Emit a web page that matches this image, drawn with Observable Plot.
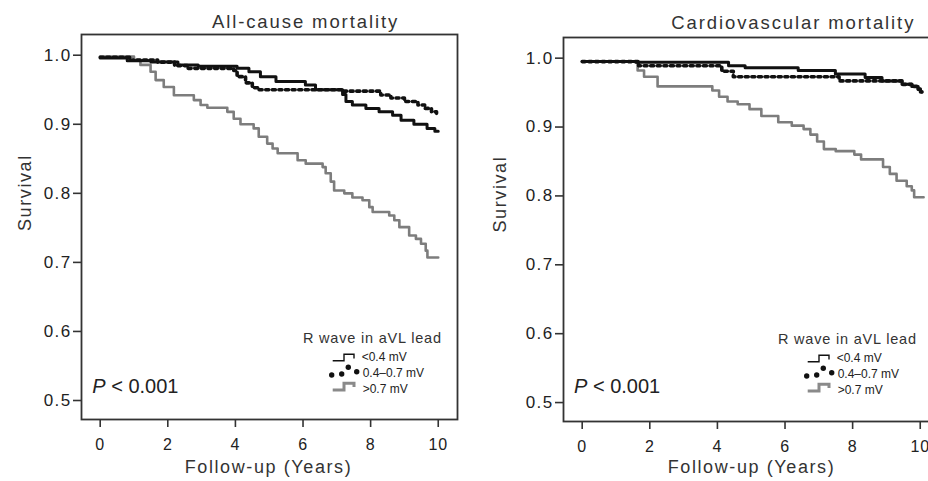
<!DOCTYPE html>
<html><head><meta charset="utf-8">
<script src="https://cdn.jsdelivr.net/npm/d3@7"></script>
<script src="https://cdn.jsdelivr.net/npm/@observablehq/plot@0.6"></script>
<style>
html,body{margin:0;padding:0;background:#fff;}
#wrap{position:relative;width:928px;height:481px;overflow:hidden;background:#fff;}
#wrap svg{position:absolute;top:0;overflow:visible;}
</style></head><body><div id="wrap"></div>
<script>
// ---- chart values ----
const xTicks = [0, 2, 4, 6, 8, 10];
const yTicks = [0.5, 0.6, 0.7, 0.8, 0.9, 1.0];
const panelTitles = ["All-cause mortality", "Cardiovascular mortality"];
const xLabel = "Follow-up (Years)";
const yLabel = "Survival";
const legendTitle = "R wave in aVL lead";
const groupLabels = ["<0.4 mV", "0.4–0.7 mV", ">0.7 mV"];
const pLetter = "P";
const pRest = " < 0.001";

// All-cause mortality: [years, survival]
const acmLow = [[0,0.996],[0.8,0.992],[1.5,0.990],[2.3,0.986],[2.9,0.984],[4.05,0.981],[4.4,0.976],[4.74,0.969],[5.2,0.962],[6.07,0.957],[6.37,0.950],[7.17,0.943],[7.27,0.933],[7.46,0.928],[7.86,0.923],[8.25,0.918],[8.65,0.913],[8.9,0.906],[9.28,0.900],[9.67,0.894],[9.9,0.890],[10,0.890]];
const acmMid = [[0,0.997],[0.9,0.993],[1.7,0.990],[2.2,0.985],[2.6,0.981],[3.95,0.978],[4.05,0.969],[4.3,0.960],[4.5,0.953],[4.7,0.950],[7.2,0.948],[8.3,0.9425],[8.6,0.938],[9.0,0.933],[9.4,0.928],[9.6,0.923],[9.8,0.918],[9.95,0.915],[10,0.915]];
const acmHigh = [[0,0.998],[1.0,0.993],[1.19,0.986],[1.49,0.976],[1.64,0.964],[1.88,0.954],[2.18,0.942],[2.77,0.935],[2.97,0.928],[3.17,0.924],[3.76,0.918],[3.95,0.908],[4.15,0.900],[4.54,0.894],[4.69,0.882],[4.94,0.872],[5.1,0.865],[5.25,0.858],[5.84,0.848],[6.08,0.843],[6.58,0.838],[6.67,0.829],[6.82,0.817],[6.92,0.804],[7.22,0.800],[7.46,0.794],[7.76,0.790],[7.96,0.780],[8.06,0.773],[8.55,0.768],[8.70,0.761],[8.85,0.751],[9.14,0.739],[9.34,0.734],[9.49,0.727],[9.63,0.717],[9.68,0.707],[10.0,0.707]];

// Cardiovascular mortality: [years, survival]
const cvLow = [[0,0.995],[1.6,0.994],[4.33,0.989],[4.82,0.986],[6.39,0.982],[7.49,0.977],[8.37,0.972],[8.87,0.967],[9.46,0.962],[9.75,0.959],[9.94,0.955],[10.0,0.951],[10.05,0.951]];
const cvMid = [[0,0.995],[1.67,0.989],[4.13,0.981],[4.47,0.973],[7.6,0.967],[8.87,0.967],[9.46,0.962],[9.75,0.959],[9.94,0.955],[10.0,0.951],[10.05,0.951]];
const cvHigh = [[0,0.995],[1.64,0.982],[1.83,0.973],[2.23,0.959],[3.85,0.953],[4.05,0.944],[4.3,0.937],[4.6,0.933],[4.95,0.926],[5.3,0.916],[5.8,0.907],[6.2,0.902],[6.55,0.897],[6.75,0.889],[6.95,0.879],[7.15,0.868],[7.5,0.865],[8.05,0.860],[8.25,0.853],[8.9,0.842],[9.1,0.832],[9.3,0.822],[9.6,0.814],[9.75,0.808],[9.82,0.798],[10.1,0.798]];

// ---- drawing ----
const FONT = "'Liberation Sans', Arial, Helvetica, sans-serif";
const xDomain = [-0.553, 10.57];
const yDomain = [0.4725, 1.03];
const wrap = document.getElementById("wrap");

function drawLegend(svg, x0, y0) {
  const g = svg.append("g").attr("font-family", FONT).attr("text-anchor", "start");
  g.append("text").attr("x", x0).attr("y", y0).attr("font-size", 14.5)
    .attr("letter-spacing", "0.8px").attr("fill", "#333").text(legendTitle);
  const sx = x0 + 29.7, tx = x0 + 59;
  g.append("path")
    .attr("d", `M${sx},${y0+17.7}H${sx+11.3}V${y0+11.3}H${sx+21.3}V${y0+15.5}`)
    .attr("fill", "none").attr("stroke", "#111").attr("stroke-width", 1.4);
  [[-1,32],[9,31],[15.6,24.3],[24,28.7]].forEach(([dx, dy]) =>
    g.append("circle").attr("cx", sx + dx).attr("cy", y0 + dy).attr("r", 2.7).attr("fill", "#111"));
  g.append("path")
    .attr("d", `M${sx},${y0+47}H${sx+11.3}V${y0+40.3}H${sx+21.3}V${y0+44}`)
    .attr("fill", "none").attr("stroke", "#8a8a8a").attr("stroke-width", 3);
  groupLabels.forEach((t, i) =>
    g.append("text").attr("x", tx + (i ? 0.7 : -0.3)).attr("y", y0 + 17.7 + 16 * i)
      .attr("font-size", 12).attr("fill", "#222").text(t));
}

function drawP(svg, x, y) {
  const t = svg.append("text").attr("x", x).attr("y", y).attr("font-family", FONT)
    .attr("text-anchor", "start").attr("font-size", 20).attr("fill", "#222");
  t.append("tspan").attr("font-style", "italic").text(pLetter);
  t.append("tspan").text(pRest);
}

function spaceText(svg, content, ls) {
  svg.selectAll("text").filter(function () { return this.textContent === content; })
    .style("letter-spacing", ls);
}

function makePanel(cfg) {
  const line = (data, o) => Plot.line(data, {x: d => d[0], y: d => d[1], curve: "step-after", ...o});
  const p = Plot.plot({
    width: cfg.width, height: 481,
    marginLeft: cfg.ml, marginRight: cfg.mr, marginTop: cfg.mt, marginBottom: cfg.mb,
    x: {domain: xDomain}, y: {domain: yDomain},
    style: {fontFamily: FONT, fontSize: "16px", color: "#222", background: "transparent", overflow: "visible"},
    marks: [
      line(cfg.high, {stroke: "#7d7d7d", strokeWidth: 2.6}),
      line(cfg.low, {stroke: "#111", strokeWidth: 3}),
      line(cfg.mid, {stroke: "#111", strokeWidth: 3.6, strokeDasharray: "3,3.6"}),
      Plot.frame({stroke: "#333", strokeWidth: 1.8}),
      Plot.axisX({ticks: xTicks, tickSize: 8, tickPadding: 11, tickFormat: d => String(d), label: null,
        stroke: "#333", strokeWidth: 1.6, fill: "#222", fontSize: 16}),
      Plot.axisY({ticks: yTicks, tickSize: 8, tickPadding: 2, tickFormat: d => d.toFixed(1), label: null,
        stroke: "#333", strokeWidth: 1.6, fill: "#222", fontSize: 17}),
      Plot.text([cfg.title], {text: d => d, frameAnchor: "top", lineAnchor: "middle", dx: cfg.tdx, dy: cfg.tdy, fontSize: 18.5, fill: "#333"}),
      Plot.text([xLabel], {text: d => d, frameAnchor: "bottom", lineAnchor: "middle", dx: cfg.xldx, dy: cfg.xldy, fontSize: 18, fill: "#333"}),
      Plot.text([yLabel], {text: d => d, frameAnchor: "left", lineAnchor: "middle", dx: cfg.yldx, dy: cfg.yldy, rotate: -90, fontSize: 18, fill: "#333"})
    ]
  });
  p.style.left = cfg.left + "px";
  wrap.appendChild(p);
  const svg = d3.select(p);
  spaceText(svg, cfg.title, "1.9px");
  spaceText(svg, xLabel, "1.6px");
  spaceText(svg, yLabel, "1.6px");
  yTicks.forEach(v => spaceText(svg, v.toFixed(1), "1.4px"));
  xTicks.forEach(v => spaceText(svg, String(v), "0.8px"));
  drawLegend(svg, cfg.legX, cfg.legY);
  drawP(svg, cfg.pX, cfg.pY);
}

makePanel({left: 0, width: 470, ml: 81, mr: 13, mt: 34, mb: 62,
  low: acmLow, mid: acmMid, high: acmHigh, title: panelTitles[0],
  tdx: 36, tdy: -12.3, xldx: -1, xldy: 47.7, yldx: -56, yldy: 4,
  legX: 303, legY: 343, pX: 92.3, pY: 393});

makePanel({left: 464, width: 500, ml: 99, mr: 25, mt: 37, mb: 60,
  low: cvLow, mid: cvMid, high: cvHigh, title: panelTitles[1],
  tdx: 41.8, tdy: -14.8, xldx: 0, xldy: 45.7, yldx: -63.5, yldy: 3,
  legX: 314, legY: 344, pX: 110, pY: 393.3});
</script>
</body></html>
